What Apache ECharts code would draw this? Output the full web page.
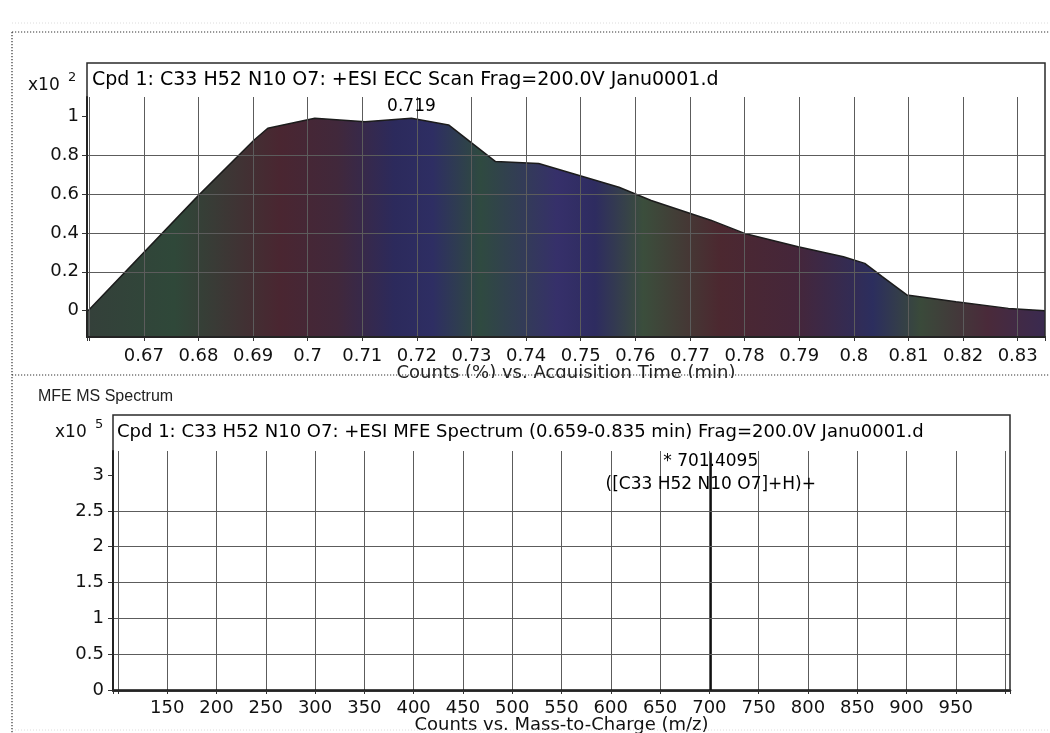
<!DOCTYPE html>
<html><head><meta charset="utf-8">
<script src="https://cdn.jsdelivr.net/npm/echarts@6/dist/echarts.min.js"></script>
<style>html,body{margin:0;padding:0;background:#fff}#c{width:1050px;height:733px}</style>
</head><body><div id="c"></div>
<script>
// ---- data ----
const topTime  = [0.6598, 0.6798, 0.6902, 0.6927, 0.7013, 0.7105, 0.7190, 0.7258, 0.7344, 0.7423, 0.7570, 0.7629, 0.7738, 0.7800, 0.7898, 0.7981, 0.8020, 0.8052, 0.8097, 0.8187, 0.8283, 0.8350];
const topValue = [0.000, 0.586, 0.877, 0.937, 0.988, 0.971, 0.988, 0.954, 0.766, 0.756, 0.634, 0.566, 0.465, 0.397, 0.329, 0.277, 0.243, 0.175, 0.081, 0.046, 0.012, 0.000];
const topPeakLabelTime = 0.719;
const topXTickLabels = ['0.67','0.68','0.69','0.7','0.71','0.72','0.73','0.74','0.75','0.76','0.77','0.78','0.79','0.8','0.81','0.82','0.83'];
const topYTickLabels = ['0','0.2','0.4','0.6','0.8','1'];

const specMz = [701.4095];
const specIntensity = [3.31];
const specFormula = ['([C33 H52 N10 O7]+H)+'];
const specXTickLabels = ['150','200','250','300','350','400','450','500','550','600','650','700','750','800','850','900','950'];
const specYTickLabels = ['0','0.5','1','1.5','2','2.5','3'];

const topTitle = 'Cpd 1: C33 H52 N10 O7: +ESI ECC Scan Frag=200.0V Janu0001.d';
const bottomTitle = 'Cpd 1: C33 H52 N10 O7: +ESI MFE Spectrum (0.659-0.835 min) Frag=200.0V Janu0001.d';
const panelTitle = 'MFE MS Spectrum';
const topXName = 'Counts (%) vs. Acquisition Time (min)';
const bottomXName = 'Counts vs. Mass-to-Charge (m/z)';
const topExp = '2', bottomExp = '5';

// ---- helpers ----
const FONT = 'DejaVu Sans';
function fmt(labels){
  return function(v){
    for (const l of labels){ if (Math.abs(Number(l) - v) < 1e-7) return l; }
    return '';
  };
}
const gridColor = '#5c5c5c';
const labelStyle = {color:'#111', fontFamily:FONT, fontSize:18};

const areaData = topTime.map((t,i)=> [t, topValue[i]]);
const peakIdx = topTime.indexOf(topPeakLabelTime);

const specData = [];
specMz.forEach((mz,i)=>{
  specData.push([mz,0]);
  specData.push([mz, specIntensity[i]]);
  specData.push([mz,0]);
});

const areaGradient = new echarts.graphic.LinearGradient(0,0,1,0,[
  {offset:0.00, color:'#34403a'},
  {offset:0.09, color:'#2f4839'},
  {offset:0.20, color:'#4a2631'},
  {offset:0.26, color:'#41283b'},
  {offset:0.32, color:'#2c2a5c'},
  {offset:0.36, color:'#2e2e63'},
  {offset:0.41, color:'#2f4a40'},
  {offset:0.49, color:'#36306a'},
  {offset:0.53, color:'#2e2c60'},
  {offset:0.58, color:'#3b4e3c'},
  {offset:0.66, color:'#4c2830'},
  {offset:0.74, color:'#45263a'},
  {offset:0.82, color:'#2c2e5e'},
  {offset:0.87, color:'#3a4a3a'},
  {offset:0.94, color:'#4a2a3a'},
  {offset:1.00, color:'#3a2a50'}
]);

const chart = echarts.init(document.getElementById('c'), null, {renderer:'canvas'});
chart.setOption({
  backgroundColor:'#ffffff',
  animation:false,
  grid:[
    {left:87, right:5, top:97, bottom:396, containLabel:false, outerBoundsMode:'none'},
    {left:113, right:40, top:451, bottom:43, containLabel:false, outerBoundsMode:'none'}
  ],
  xAxis:[
    {type:'value', gridIndex:0, min:0.6596, max:0.835, splitNumber:18, z:3,
     name:topXName, nameLocation:'middle', nameGap:27, nameMoveOverlap:false,
     nameTextStyle:{color:'#222', fontFamily:FONT, fontSize:18},
     axisLine:{show:true, onZero:false, lineStyle:{color:'#111', width:2}},
     axisTick:{show:true, inside:false, length:4, lineStyle:{color:'#333'}},
     axisLabel:Object.assign({margin:10, formatter:fmt(topXTickLabels)}, labelStyle),
     splitLine:{show:true, showMinLine:false, showMaxLine:false, lineStyle:{color:gridColor, width:1}}},
    {type:'value', gridIndex:1, min:95, max:1005, splitNumber:18, z:3,
     name:bottomXName, nameLocation:'middle', nameGap:26, nameMoveOverlap:false,
     nameTextStyle:{color:'#111', fontFamily:FONT, fontSize:18},
     axisLine:{show:true, onZero:false, lineStyle:{color:'#111', width:2.5}},
     axisTick:{show:true, inside:false, length:4, lineStyle:{color:'#333'}},
     axisLabel:Object.assign({margin:9, formatter:fmt(specXTickLabels)}, labelStyle),
     splitLine:{show:true, showMinLine:false, showMaxLine:false, lineStyle:{color:gridColor, width:1}}}
  ],
  yAxis:[
    {type:'value', gridIndex:0, min:-0.135, max:1.0976, splitNumber:6, z:3,
     axisLine:{show:true, onZero:false, lineStyle:{color:'#111', width:2}},
     axisTick:{show:true, inside:false, length:5, customValues:topYTickLabels.map(Number), lineStyle:{color:'#333'}},
     axisLabel:Object.assign({margin:8, formatter:fmt(topYTickLabels)}, labelStyle),
     splitLine:{show:true, showMinLine:false, showMaxLine:false, lineStyle:{color:gridColor, width:1}}},
    {type:'value', gridIndex:1, min:0, max:3.335, interval:0.5, z:3,
     axisLine:{show:true, onZero:false, lineStyle:{color:'#111', width:2}},
     axisTick:{show:true, inside:false, length:5, customValues:specYTickLabels.map(Number), lineStyle:{color:'#333'}},
     axisLabel:Object.assign({margin:9, formatter:fmt(specYTickLabels)}, labelStyle),
     splitLine:{show:true, showMinLine:false, showMaxLine:false, lineStyle:{color:gridColor, width:1}}}
  ],
  series:[
    {type:'line', xAxisIndex:0, yAxisIndex:0, data:areaData, symbol:'none', z:2,
     lineStyle:{color:'#1c1c1c', width:1.5}, areaStyle:{color:areaGradient, opacity:1, origin:'start'}},
    {type:'scatter', xAxisIndex:0, yAxisIndex:0, data:[[topPeakLabelTime, topValue[peakIdx]]], symbolSize:0, z:10,
     itemStyle:{color:'#000', opacity:1}, silent:true,
     label:{show:true, position:'top', distance:3, opacity:1, formatter: topPeakLabelTime.toFixed(3), color:'#000', fontFamily:FONT, fontSize:17}},
    {type:'line', xAxisIndex:1, yAxisIndex:1, data:specData, symbol:'none', z:2,
     lineStyle:{color:'#111', width:2.2}},
    {type:'scatter', xAxisIndex:1, yAxisIndex:1, data:specMz.map((mz,i)=>[mz, specIntensity[i]]), symbolSize:0, z:10,
     itemStyle:{color:'#000', opacity:1}, silent:true,
     label:{show:true, position:'bottom', distance:0, offset:[0,-3], opacity:1, color:'#000', fontFamily:FONT, fontSize:17, lineHeight:23,
       formatter:(p)=> '* ' + specMz[p.dataIndex].toFixed(4) + '\n' + specFormula[p.dataIndex]}}
  ],
  graphic:[
    {type:'line', z:40, shape:{x1:12,y1:23,x2:1050,y2:23}, style:{stroke:'#dcdcdc', lineWidth:1, lineDash:[1,2]}},
    {type:'line', z:40, shape:{x1:12,y1:730,x2:1050,y2:730}, style:{stroke:'#dcdcdc', lineWidth:1, lineDash:[1,2]}},
    {type:'line', z:60, shape:{x1:12,y1:32,x2:1050,y2:32}, style:{stroke:'#333', lineWidth:1.2, lineDash:[1.2,1.8]}},
    {type:'line', z:60, shape:{x1:12,y1:32,x2:12,y2:733}, style:{stroke:'#333', lineWidth:1.2, lineDash:[1.2,1.8]}},
    {type:'rect', z:50, shape:{x:380,y:378,width:380,height:12}, style:{fill:'#fff'}},
    {type:'line', z:60, shape:{x1:12,y1:375,x2:1050,y2:375}, style:{stroke:'#333', lineWidth:1.2, lineDash:[1.2,1.8]}},
    {type:'rect', z:45, shape:{x:87,y:63,width:958,height:274}, style:{fill:null, stroke:'#2a2a2a', lineWidth:1.5}},
    {type:'rect', z:45, shape:{x:113,y:415,width:897,height:276}, style:{fill:null, stroke:'#2a2a2a', lineWidth:1.5}},
    {type:'text', z:55, style:{text:topTitle, x:92, y:80, fill:'#000', font:'19px "DejaVu Sans"', textAlign:'left', textVerticalAlign:'middle', align:'left', verticalAlign:'middle'}},
    {type:'text', z:55, style:{text:bottomTitle, x:117, y:432, fill:'#000', font:'18px "DejaVu Sans"', textAlign:'left', textVerticalAlign:'middle', align:'left', verticalAlign:'middle'}},
    {type:'text', z:55, style:{text:panelTitle, x:38, y:397, fill:'#222', font:'16px "Liberation Sans"', textAlign:'left', textVerticalAlign:'middle', align:'left', verticalAlign:'middle'}},
    {type:'text', z:55, style:{text:'x10', x:28, y:86, fill:'#111', font:'17px "DejaVu Sans"', textAlign:'left', textVerticalAlign:'middle', align:'left', verticalAlign:'middle'}},
    {type:'text', z:55, style:{text:topExp, x:68, y:78, fill:'#111', font:'13px "DejaVu Sans"', textAlign:'left', textVerticalAlign:'middle', align:'left', verticalAlign:'middle'}},
    {type:'text', z:55, style:{text:'x10', x:55, y:433, fill:'#111', font:'17px "DejaVu Sans"', textAlign:'left', textVerticalAlign:'middle', align:'left', verticalAlign:'middle'}},
    {type:'text', z:55, style:{text:bottomExp, x:95, y:425, fill:'#111', font:'13px "DejaVu Sans"', textAlign:'left', textVerticalAlign:'middle', align:'left', verticalAlign:'middle'}}
  ]
});
</script>
</body></html>
